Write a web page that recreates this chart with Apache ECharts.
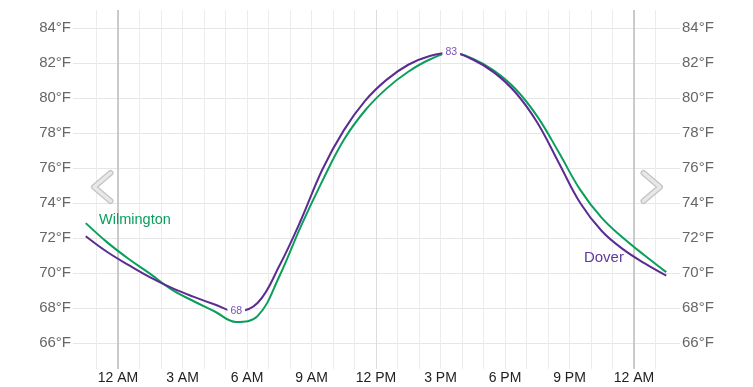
<!DOCTYPE html>
<html><head><meta charset="utf-8">
<script src="https://cdn.jsdelivr.net/npm/echarts@6/dist/echarts.min.js"></script>
<style>html,body{margin:0;padding:0;background:#fff}#c{width:753px;height:387px}</style>
</head><body><div id="c"></div>
<script>
// hours relative to midnight (start of day)
const hours = [-1.5,-0.5,0.5,1.5,2.5,3.5,4.5,5.5,6.5,7.5,8.5,9.5,10.5,11.5,12.5,13.5,14.5,15.5,16.5,17.5,18.5,19.5,20.5,21.5,22.5,23.5,24.5,25.5];
const dover = [72.1,71.2,70.45,69.75,69.15,68.65,68.2,67.8,68.3,70.4,73.0,75.9,78.15,79.85,81.05,81.9,82.4,82.6,82.2,81.45,80.3,78.6,76.3,74.0,72.4,71.35,70.55,69.85];
const wilmington = [72.85,71.75,70.8,69.95,69.05,68.4,67.8,67.2,67.55,69.8,72.65,75.25,77.6,79.3,80.55,81.5,82.2,82.6,82.25,81.55,80.5,78.95,76.9,74.75,73.15,72.0,71.0,70.05];
const tickLabels = {0:'12 AM',3:'3 AM',6:'6 AM',9:'9 AM',12:'12 PM',15:'3 PM',18:'6 PM',21:'9 PM',24:'12 AM'};
const dayBounds = [0, 24];
const noon = [12];

const GREEN = '#0a9e5c', PURPLE = '#5b2c91';
const FONT = 'Liberation Sans, Arial, sans-serif';
const pair = arr => hours.map((h,i)=>[h,arr[i]]);

const chart = echarts.init(document.getElementById('c'));
const chevron = (pts) => [
  {type:'polyline', shape:{points:pts}, style:{stroke:'#c4c4c4', lineWidth:6, fill:null, lineCap:'round', lineJoin:'round'}, z:100},
  {type:'polyline', shape:{points:pts}, style:{stroke:'#e8e8e8', lineWidth:3.5, fill:null, lineCap:'round', lineJoin:'round'}, z:101}
];
const labelStyle = {show:true, position:'inside', formatter:p=>Math.round(p.value), color:'#7b50b5', fontSize:10.5, backgroundColor:'#fff', padding:[0,3], fontFamily:FONT};
chart.setOption({
  animation:false,
  backgroundColor:'#fff',
  grid:[
    {left:73, right:73, top:28, height:315},
    {left:75, right:76, top:10, bottom:18}
  ],
  xAxis:[
    {gridIndex:0, type:'value', min:0, max:1, show:false},
    {gridIndex:1, type:'value', min:-2, max:26, interval:1,
     axisLine:{show:false}, axisTick:{show:false},
     splitLine:{show:true, showMinLine:false, showMaxLine:false, lineStyle:{color:'#ececec', width:1}},
     axisLabel:{margin:2, fontSize:14, color:'#222', fontFamily:FONT,
       formatter:v=> tickLabels[v] !== undefined ? tickLabels[v] : ''}}
  ],
  yAxis:[
    {gridIndex:0, type:'value', min:66, max:84, interval:2, position:'left',
     axisLine:{show:false}, axisTick:{show:false},
     splitLine:{show:true, lineStyle:{color:'#e6e6e6', width:1}},
     axisLabel:{margin:2, fontSize:15, color:'#666', fontFamily:FONT, formatter:v=>v+'°F'}},
    {gridIndex:0, type:'value', min:66, max:84, interval:2, position:'right',
     axisLine:{show:false}, axisTick:{show:false}, splitLine:{show:false},
     axisLabel:{margin:2, fontSize:15, color:'#666', fontFamily:FONT, formatter:v=>v+'°F'}},
    {gridIndex:1, type:'value', min:66-26/17.5, max:84+18/17.5, show:false, splitLine:{show:false}}
  ],
  graphic: chevron([[110.5,173],[94,187],[110.5,201]]).concat(chevron([[643.5,173],[660,187],[643.5,201]])),
  series:[
    {type:'line', xAxisIndex:1, yAxisIndex:2, data:[], silent:true, z:1,
     markLine:{silent:true, symbol:'none', label:{show:false}, z:1,
       data: dayBounds.map(v=>({xAxis:v, lineStyle:{color:'#bdbdbd', width:1.5, type:'solid'}}))
             .concat(noon.map(v=>({xAxis:v, lineStyle:{color:'#dcdcdc', width:1, type:'solid'}})))}},
    {name:'Wilmington', type:'line', xAxisIndex:1, yAxisIndex:2, data:pair(wilmington),
     smooth:0.4, showSymbol:false, lineStyle:{color:GREEN, width:2}, itemStyle:{color:GREEN}, z:3,
     markPoint:{symbol:'circle', symbolSize:0, silent:true,
       data:[{coord:[-0.88,73.03], value:'Wilmington'}],
       label:{show:true, position:'right', distance:0, formatter:'Wilmington', color:GREEN, fontSize:14.5, fontFamily:FONT}}},
    {name:'Dover', type:'line', xAxisIndex:1, yAxisIndex:2, data:pair(dover),
     smooth:0.4, showSymbol:false, lineStyle:{color:PURPLE, width:2}, itemStyle:{color:PURPLE}, z:4,
     markPoint:{symbol:'circle', symbolSize:0, silent:true,
       data:[
         {type:'max', label:labelStyle},
         {type:'min', label:labelStyle},
         {coord:[21.67,70.86], value:'Dover', label:{show:true, position:'right', distance:0, formatter:'Dover', color:'#5f3a9e', fontSize:15, fontFamily:FONT}}
       ]}}
  ]
});
</script></body></html>
